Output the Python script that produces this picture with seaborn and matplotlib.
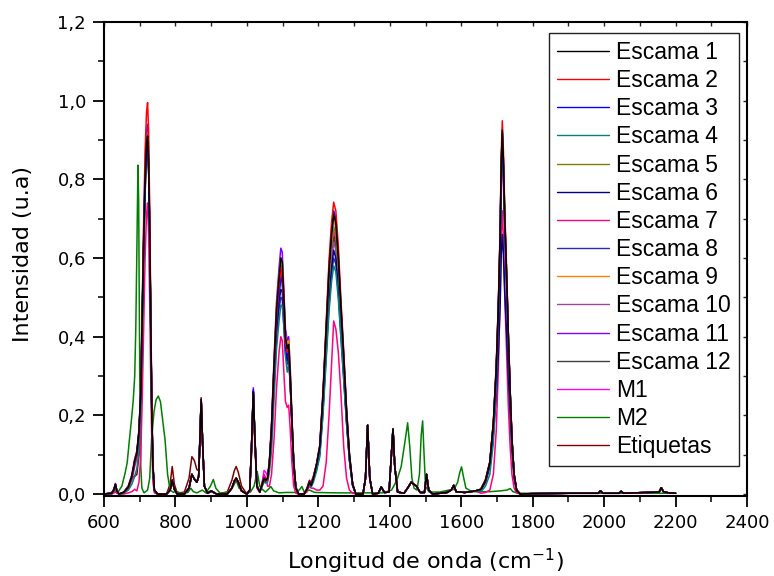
import pandas as pd
import matplotlib
matplotlib.use("Agg")
import matplotlib.pyplot as plt
from matplotlib.ticker import MultipleLocator, FuncFormatter, NullFormatter
from matplotlib.font_manager import FontProperties
import seaborn as sns

# Wavenumber grid (cm-1) shared by the scale / reference spectra, split by region
WN_A = [600, 622, 628, 632, 636, 642, 655, 668, 678, 686, 692, 698, 703, 707, 711,
        715, 719, 722, 725, 728, 731, 734, 737, 741, 750]
WN_B = [775, 785, 791, 797, 805, 825, 838, 846, 853, 860, 865, 869, 872, 876, 881,
        890, 900, 915, 945, 958, 965, 970, 976, 985, 1000]
WN_C = [1008, 1013, 1018, 1022, 1028, 1036, 1043, 1048, 1053, 1058, 1063, 1069, 1076,
        1083, 1090, 1095, 1099, 1104, 1108, 1113, 1117, 1121, 1126, 1131, 1137, 1145]
WN_D = [1160, 1168, 1175, 1180, 1186, 1195, 1204, 1213, 1222, 1230, 1237, 1243, 1249,
        1256, 1263, 1271, 1279, 1287, 1296, 1305]
WN_E = [1325, 1332, 1338, 1344, 1352, 1368, 1376, 1385, 1398, 1404, 1409, 1414, 1422,
        1440, 1452, 1460, 1467, 1475, 1485, 1497, 1503, 1509, 1520, 1560, 1572, 1579,
        1586, 1610, 1640]
WN_F = [1655, 1668, 1680, 1690, 1698, 1704, 1709, 1712, 1715, 1718, 1722, 1727, 1732,
        1737, 1742, 1748, 1755, 1765]
WN_TAIL = [1800, 1900, 1984, 1990, 1996, 2042, 2048, 2054, 2120, 2154, 2160, 2166, 2180, 2200]
WN = WN_A + WN_B + WN_C + WN_D + WN_E + WN_F + WN_TAIL

# Regions where the scale spectra coincide
SHARED_B = [0, .010, .035, .012, 0, 0, .015, .050, .038, .030, .045, .150, .240, .130, .020,
            .002, .008, 0, 0, .015, .033, .040, .030, .008, 0]
SHARED_E = [0, .040, .175, .040, 0, .002, .018, .004, .005, .090, .165, .070, .005, .002, .018,
            .030, .025, .020, .004, .004, .050, .010, 0, .004, .010, .022, .006, .004, .008]
SHARED_TAIL = [.001, .002, .002, .008, .002, .002, .007, .002, .004, .005, .016, .006, .003, .002]

ESCAMA_1 = ([0, .002, .012, .025, .008, 0, .004, .018, .045, .085, .105, .16, .26, .45, .64,
             .80, .89, .91, .84, .66, .42, .20, .07, .01, 0] + SHARED_B +
            [.01, .12, .26, .15, .02, .005, .025, .04, .035, .04, .08, .17, .33, .47, .55,
             .60, .59, .49, .40, .37, .38, .31, .19, .08, .015, 0] +
            [0, .012, .03, .022, .04, .075, .12, .25, .42, .57, .66, .71, .69, .60, .48,
             .35, .21, .10, .025, 0] + SHARED_E +
            [.012, .035, .08, .18, .32, .48, .66, .84, .925, .85, .70, .56, .40, .26, .14,
             .05, .01, 0] + SHARED_TAIL)
ESCAMA_2 = ([0, .002, .012, .024, .008, 0, .004, .016, .042, .080, .100, .155, .27, .48, .69,
             .87, .97, .995, .92, .72, .46, .22, .08, .01, 0] + SHARED_B +
            [.01, .115, .25, .145, .02, .005, .025, .04, .035, .04, .078, .165, .315, .45, .53,
             .57, .56, .47, .385, .36, .37, .30, .185, .08, .015, 0] +
            [0, .012, .03, .024, .042, .078, .125, .26, .44, .595, .69, .742, .72, .63, .50,
             .365, .22, .105, .026, 0] + SHARED_E +
            [.012, .036, .082, .185, .33, .49, .68, .865, .949, .875, .72, .575, .41, .265, .145,
             .05, .01, 0] + SHARED_TAIL)
ESCAMA_3 = ([0, .002, .011, .024, .008, 0, .004, .017, .043, .082, .100, .155, .255, .44, .63,
             .79, .88, .90, .83, .65, .41, .19, .07, .01, 0] + SHARED_B +
            [.01, .12, .265, .15, .02, .005, .025, .042, .036, .04, .076, .16, .305, .44, .51,
             .55, .54, .455, .375, .35, .36, .295, .18, .075, .015, 0] +
            [0, .012, .03, .022, .04, .076, .122, .255, .425, .58, .67, .72, .70, .61, .485,
             .355, .213, .10, .025, 0] + SHARED_E +
            [.012, .034, .078, .175, .31, .465, .64, .82, .90, .83, .68, .545, .39, .255, .135,
             .05, .01, 0] + SHARED_TAIL)
ESCAMA_4 = ([0, .001, .008, .018, .006, 0, .002, .010, .025, .045, .065, .11, .20, .38, .58,
             .76, .86, .88, .82, .64, .40, .19, .06, .008, 0] + SHARED_B +
            [.008, .10, .25, .16, .025, .005, .02, .03, .028, .03, .055, .11, .24, .37, .44,
             .48, .48, .42, .35, .31, .33, .29, .19, .09, .02, 0] +
            [0, .01, .025, .018, .03, .058, .095, .20, .34, .465, .54, .58, .565, .495, .40,
             .295, .18, .09, .025, 0] + SHARED_E +
            [.006, .02, .05, .13, .27, .44, .62, .80, .88, .81, .67, .53, .38, .25, .135,
             .05, .01, 0] + SHARED_TAIL)
ESCAMA_5 = ([0, .002, .011, .023, .008, 0, .004, .016, .040, .078, .100, .15, .25, .44, .63,
             .79, .87, .89, .83, .65, .41, .19, .07, .01, 0] + SHARED_B +
            [.01, .115, .25, .145, .02, .005, .025, .04, .035, .04, .08, .17, .32, .46, .54,
             .58, .57, .48, .395, .37, .38, .31, .19, .08, .015, 0] +
            [0, .012, .03, .022, .038, .072, .115, .24, .40, .545, .63, .68, .66, .575, .46,
             .335, .20, .096, .024, 0] + SHARED_E +
            [.012, .035, .079, .177, .315, .47, .65, .83, .91, .84, .69, .55, .395, .255, .138,
             .05, .01, 0] + SHARED_TAIL)
ESCAMA_6 = ([0, .002, .012, .024, .008, 0, .004, .017, .044, .083, .103, .158, .255, .44, .63,
             .79, .88, .90, .83, .65, .41, .19, .07, .01, 0] + SHARED_B +
            [.01, .12, .26, .15, .02, .005, .025, .04, .035, .04, .075, .155, .29, .42, .49,
             .52, .515, .44, .365, .34, .35, .29, .18, .075, .015, 0] +
            [0, .011, .028, .02, .036, .066, .105, .22, .37, .50, .575, .62, .60, .525, .42,
             .305, .185, .088, .022, 0] + SHARED_E +
            [.01, .03, .07, .15, .25, .36, .48, .61, .66, .61, .51, .41, .30, .20, .11,
             .04, .008, 0] + SHARED_TAIL)
ESCAMA_7 = ([0, 0, .003, .006, .002, 0, 0, .003, .006, .012, .008, .03, .10, .24, .42,
             .60, .71, .74, .66, .48, .28, .12, .03, .003, 0] + SHARED_B +
            [.005, .10, .24, .13, .015, .004, .03, .05, .04, .02, .02, .05, .14, .27, .36,
             .40, .39, .30, .235, .22, .226, .17, .08, .02, .002, 0] +
            [0, .005, .02, .015, .015, .01, .01, .02, .08, .20, .33, .44, .42, .36, .26,
             .12, .04, .01, .002, 0] + SHARED_E +
            [.002, .004, .01, .05, .16, .32, .50, .66, .72, .65, .50, .36, .22, .12, .05,
             .015, .003, 0] + SHARED_TAIL)
ESCAMA_8 = ([0, .002, .011, .022, .007, 0, .004, .016, .042, .080, .100, .152, .25, .44, .63,
             .79, .88, .90, .83, .65, .41, .19, .07, .01, 0] + SHARED_B +
            [.01, .12, .26, .15, .02, .005, .025, .04, .035, .04, .072, .15, .28, .40, .47,
             .50, .495, .42, .355, .33, .34, .285, .175, .075, .015, 0] +
            [0, .011, .028, .02, .035, .064, .10, .21, .355, .48, .56, .60, .585, .51, .405,
             .295, .18, .085, .021, 0] + SHARED_E +
            [.012, .034, .078, .175, .31, .465, .64, .82, .90, .83, .68, .545, .39, .255, .135,
             .05, .01, 0] + SHARED_TAIL)
ESCAMA_9 = ([0, .002, .012, .024, .008, 0, .004, .018, .046, .086, .105, .16, .26, .45, .64,
             .79, .88, .90, .84, .66, .42, .20, .07, .01, 0] + SHARED_B +
            [.01, .115, .25, .145, .02, .005, .03, .045, .04, .045, .082, .17, .33, .47, .55,
             .60, .59, .49, .405, .38, .39, .32, .195, .082, .016, 0] +
            [0, .012, .03, .022, .04, .074, .118, .245, .415, .56, .65, .70, .68, .59, .475,
             .345, .21, .10, .025, 0] + SHARED_E +
            [.013, .037, .082, .182, .32, .48, .66, .84, .92, .85, .70, .56, .40, .26, .14,
             .05, .01, 0] + SHARED_TAIL)
ESCAMA_10 = ([0, .002, .012, .025, .008, 0, .004, .018, .045, .085, .105, .16, .265, .46, .65,
              .81, .90, .92, .85, .67, .43, .20, .07, .01, 0] + SHARED_B +
             [.01, .12, .26, .15, .02, .005, .025, .045, .04, .042, .076, .16, .305, .44, .51,
              .55, .54, .455, .375, .35, .36, .295, .18, .075, .015, 0] +
             [0, .012, .03, .022, .038, .068, .108, .225, .38, .515, .595, .64, .62, .54, .43,
              .315, .19, .09, .023, 0] + SHARED_E +
             [.012, .034, .078, .175, .31, .465, .64, .82, .90, .83, .69, .55, .395, .26, .14,
              .05, .01, 0] + SHARED_TAIL)
ESCAMA_11 = ([0, .002, .013, .027, .009, 0, .005, .020, .050, .090, .110, .165, .27, .47, .67,
              .83, .92, .94, .87, .68, .43, .21, .07, .01, 0] + SHARED_B +
             [.01, .125, .27, .155, .02, .005, .025, .045, .038, .042, .085, .18, .345, .49, .575,
              .625, .615, .51, .42, .39, .40, .33, .20, .085, .016, 0] +
             [0, .012, .031, .023, .041, .075, .12, .248, .416, .562, .652, .70, .68, .592, .473,
              .345, .207, .099, .025, 0] + SHARED_E +
             [.012, .035, .08, .18, .318, .478, .66, .84, .92, .85, .70, .56, .40, .26, .14,
              .05, .01, 0] + SHARED_TAIL)
ESCAMA_12 = ([0, .002, .012, .025, .008, 0, .004, .018, .046, .086, .106, .16, .26, .45, .64,
              .80, .88, .90, .84, .66, .42, .20, .07, .01, 0] + SHARED_B +
             [.01, .12, .26, .15, .02, .005, .025, .04, .035, .04, .08, .17, .33, .47, .55,
              .60, .59, .49, .40, .37, .38, .31, .19, .08, .015, 0] +
             [0, .012, .03, .022, .038, .069, .11, .23, .385, .52, .605, .65, .63, .55, .44,
              .32, .19, .092, .023, 0] + SHARED_E +
             [.012, .035, .08, .18, .318, .478, .66, .84, .92, .85, .70, .56, .40, .26, .14,
              .05, .01, 0] + SHARED_TAIL)
M1 = ([0, .001, .010, .020, .006, 0, .003, .014, .035, .070, .090, .14, .24, .43, .62,
       .78, .87, .90, .83, .65, .41, .19, .06, .008, 0] + SHARED_B +
      [.01, .12, .26, .15, .02, .005, .03, .06, .055, .045, .08, .17, .32, .46, .54,
       .58, .57, .48, .39, .36, .37, .305, .185, .08, .015, 0] +
      [0, .012, .03, .022, .038, .071, .113, .235, .395, .54, .62, .67, .65, .565, .455,
       .33, .20, .095, .024, 0] + SHARED_E +
      [.01, .03, .07, .16, .29, .44, .61, .78, .86, .79, .65, .52, .375, .245, .13,
       .045, .01, 0] + SHARED_TAIL)
ETIQUETAS = ([0, .001, .008, .016, .005, 0, .004, .020, .042, .045, .050, .10, .22, .42, .62,
              .77, .85, .88, .82, .64, .40, .19, .06, .008, 0] +
             [0, .025, .070, .025, .002, .005, .040, .095, .085, .062, .060, .160, .245, .130, .020,
              .002, .006, 0, .005, .035, .060, .070, .055, .020, 0] +
             [.01, .12, .26, .15, .02, .005, .022, .035, .03, .035, .075, .16, .31, .44, .52,
              .56, .55, .46, .38, .35, .36, .30, .18, .078, .015, 0] +
             [0, .015, .035, .03, .045, .075, .112, .233, .39, .53, .615, .66, .64, .56, .445,
              .325, .195, .093, .023, 0] + SHARED_E +
             [.011, .033, .077, .175, .31, .465, .64, .82, .90, .83, .685, .55, .39, .255, .137,
              .05, .01, 0] + SHARED_TAIL)

# M2 was recorded on its own grid
WN_M2 = [600, 620, 628, 635, 640, 650, 659, 665, 671, 677,
         682, 686, 689, 692, 695, 697, 699, 701, 703, 706,
         712, 722, 728, 733, 740, 746, 752, 758, 764, 771,
         778, 785, 795, 800, 815, 835, 843, 850, 860, 875,
         885, 898, 906, 913, 925, 950, 962, 970, 978, 995,
         1010, 1020, 1029, 1036, 1043, 1052, 1060, 1067, 1075, 1090,
         1110, 1140, 1148, 1154, 1160, 1175, 1190, 1250, 1320, 1380,
         1405, 1420, 1432, 1442, 1450, 1456, 1462, 1468, 1476, 1483,
         1488, 1492, 1496, 1500, 1510, 1540, 1565, 1580, 1590, 1596,
         1601, 1606, 1613, 1630, 1680, 1710, 1728, 1737, 1745, 1760,
         1850, 1950, 2050, 2200]
M2 = [0, .004, .008, .004, .006, .02, .053, .08, .137, .19,
      .24, .30, .42, .62, .836, .75, .45, .20, .07, .015,
      .003, .01, .04, .137, .21, .24, .249, .235, .19, .137,
      .05, .01, .004, .008, .002, .004, .015, .006, .003, .01,
      .003, .02, .037, .015, .002, .005, .02, .035, .015, .003,
      .005, .02, .057, .02, .012, .005, .012, .019, .008, .003,
      .004, .004, .012, .019, .006, .01, .004, .003, .003, .003,
      .01, .035, .07, .13, .181, .12, .04, .015, .01, .05,
      .15, .186, .10, .02, .005, .005, .01, .012, .03, .055,
      .069, .045, .015, .006, .006, .008, .01, .014, .006, .002,
      .002, .002, .002, .002]

NAMES = ["Escama 1", "Escama 2", "Escama 3", "Escama 4", "Escama 5", "Escama 6",
         "Escama 7", "Escama 8", "Escama 9", "Escama 10", "Escama 11", "Escama 12",
         "M1", "M2", "Etiquetas"]
COLORS = ["#000000", "#FF0000", "#0000FF", "#008080", "#808000", "#000080",
          "#FF0080", "#2A2AB8", "#FF8000", "#9A4A9A", "#8000FF", "#404040",
          "#FF00FF", "#008000", "#800000"]

series = [(NAMES[0], WN, ESCAMA_1), (NAMES[1], WN, ESCAMA_2), (NAMES[2], WN, ESCAMA_3),
          (NAMES[3], WN, ESCAMA_4), (NAMES[4], WN, ESCAMA_5), (NAMES[5], WN, ESCAMA_6),
          (NAMES[6], WN, ESCAMA_7), (NAMES[7], WN, ESCAMA_8), (NAMES[8], WN, ESCAMA_9),
          (NAMES[9], WN, ESCAMA_10), (NAMES[10], WN, ESCAMA_11), (NAMES[11], WN, ESCAMA_12),
          (NAMES[12], WN, M1), (NAMES[13], WN_M2, M2), (NAMES[14], WN, ETIQUETAS)]

df = pd.concat([pd.DataFrame({"wn": x, "intensidad": y, "serie": n}) for n, x, y in series],
               ignore_index=True)

sns.set_theme(style="white")
plt.rcParams["font.family"] = ["DejaVu Sans"]
plt.rcParams["mathtext.fontset"] = "dejavusans"

fig = plt.figure(figsize=(7.74, 5.76), dpi=100)
ax = fig.add_axes([104 / 774, 80 / 576, 643 / 774, 474 / 576])

sns.lineplot(data=df, x="wn", y="intensidad", hue="serie", hue_order=NAMES,
             palette=dict(zip(NAMES, COLORS)), estimator=None, sort=False,
             linewidth=1.1, ax=ax)

# the first spectra sit on top of the later ones; M2 stays above everything
n_lines = len(ax.get_lines())
for i, line in enumerate(ax.get_lines()):
    line.set_zorder(2 + (n_lines - i) * 0.01)
    if line.get_label() == "M2":
        line.set_zorder(2.5)

ax.set_xlim(600, 2400)
ax.set_ylim(-0.005, 1.2)
ax.xaxis.set_major_locator(MultipleLocator(200))
ax.xaxis.set_minor_locator(MultipleLocator(100))
ax.yaxis.set_major_locator(MultipleLocator(0.2))
ax.yaxis.set_minor_locator(MultipleLocator(0.1))
ax.yaxis.set_major_formatter(FuncFormatter(lambda v, p: f"{v:.1f}".replace(".", ",")))
ax.tick_params(which="major", direction="out", length=8, width=1.3, labelsize=13,
               pad=5, colors="black", left=True, bottom=True)
ax.tick_params(which="minor", direction="out", length=4.5, width=1.3, left=True, bottom=True)
for s in ax.spines.values():
    s.set_linewidth(1.5)
    s.set_color("black")

# small inward ticks on the top and right frame
top = ax.secondary_xaxis("top")
top.xaxis.set_major_locator(MultipleLocator(200))
top.xaxis.set_minor_locator(MultipleLocator(100))
top.xaxis.set_major_formatter(NullFormatter())
top.tick_params(which="both", direction="in", length=3, width=1.0)
right = ax.secondary_yaxis("right")
right.yaxis.set_major_locator(MultipleLocator(0.2))
right.yaxis.set_minor_locator(MultipleLocator(0.1))
right.yaxis.set_major_formatter(NullFormatter())
right.tick_params(which="both", direction="in", length=3, width=1.0)

ax.set_xlabel("Longitud de onda (cm$^{-1}$)", fontsize=16, color="black")
ax.set_ylabel("Intensidad (u.a)", fontsize=16, color="black")
ax.xaxis.set_label_coords(0.5, -0.108)
ax.yaxis.set_label_coords(-0.110, 0.51)

handles, labels = ax.get_legend_handles_labels()
leg = ax.legend(handles, labels, loc="upper right",
                bbox_to_anchor=(739 / 774, 1 - 33 / 576), bbox_transform=fig.transFigure,
                prop=FontProperties(family="Liberation Sans", size=16.5),
                frameon=True, fancybox=False, framealpha=1, edgecolor="#222222",
                handlelength=2.27, handletextpad=0.33, labelspacing=0.225,
                borderpad=0.35, borderaxespad=0)
leg.get_frame().set_linewidth(1.0)
leg.set_zorder(5)
for h in leg.get_lines():
    h.set_linewidth(1.0)
for t in leg.get_texts():
    t.set_color("black")

fig.savefig("out.png", dpi=100)
